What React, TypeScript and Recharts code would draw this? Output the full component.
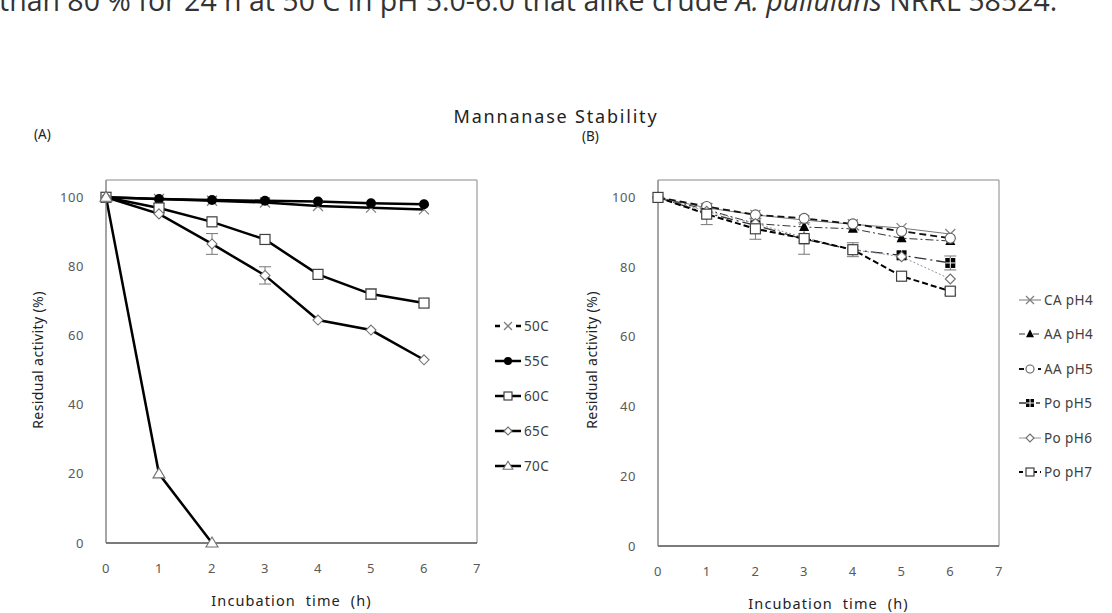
import React from "react";
import { ErrorBar, Line, LineChart, ReferenceArea, XAxis, YAxis } from "recharts";

// incubation time (h)
const hours = [0, 1, 2, 3, 4, 5, 6];
const xTicks = [0, 1, 2, 3, 4, 5, 6, 7];
const yTicks = [0, 20, 40, 60, 80, 100];

// (A) temperature stability, residual activity (%)
const temp50 = [100, 99.5, 99, 98.5, 97.5, 97, 96.5];
const temp55 = [100, 99.5, 99.2, 99, 98.8, 98.3, 98];
const temp60 = [100, 96.9, 92.9, 87.8, 77.7, 72, 69.4];
const temp65 = [100, 95.2, 86.5, 77.4, 64.5, 61.6, 53];
const temp70 = [100, 20, 0];
const err60 = [0, 0, 0, 0, 0, 1.5, 0];
const err65 = [0, 0, 3, 2.5, 0, 0, 0];

// (B) pH stability, residual activity (%)
const caPH4 = [100, 97, 95, 93.5, 92.3, 91.2, 89.5];
const aaPH4 = [100, 96.5, 92.5, 91.5, 91, 88.3, 87.5];
const aaPH5 = [100, 97.4, 95, 94, 92.4, 90.3, 88.3];
const poPH5 = [100, 95.5, 92, 88, 85, 83.4, 81.2];
const poPH6 = [100, 96, 92.5, 88.5, 85, 83, 76.6];
const poPH7 = [100, 95.2, 91, 88.2, 85, 77.4, 73.1];
const errPoPH5 = [0, 0, 0, 0, 2, 0, 2];
const errPoPH7 = [0, 3, 3, 4.5, 0, 0, 1];

const tempRows = hours.map((t, i) => ({
  t,
  c50: temp50[i],
  c55: temp55[i],
  c60: temp60[i],
  c65: temp65[i],
  c70: temp70[i],
  e60: err60[i],
  e65: err65[i],
}));

const phRows = hours.map((t, i) => ({
  t,
  caPH4: caPH4[i],
  aaPH4: aaPH4[i],
  aaPH5: aaPH5[i],
  poPH5: poPH5[i],
  poPH6: poPH6[i],
  poPH7: poPH7[i],
  ePo5: errPoPH5[i],
  ePo7: errPoPH7[i],
}));

type Kind = "cross" | "dot" | "square" | "diamond" | "triangle" | "filledTriangle" | "circle" | "blockSquare";

function Marker({ kind, cx, cy, s = 1 }: { kind: Kind; cx: number; cy: number; s?: number }) {
  switch (kind) {
    case "cross":
      return (
        <g stroke="#808080" strokeWidth={1.3}>
          <line x1={cx - 5 * s} y1={cy - 5 * s} x2={cx + 5 * s} y2={cy + 5 * s} />
          <line x1={cx - 5 * s} y1={cy + 5 * s} x2={cx + 5 * s} y2={cy - 5 * s} />
        </g>
      );
    case "dot":
      return <circle cx={cx} cy={cy} r={5 * s} fill="#000" />;
    case "square":
      return <rect x={cx - 5 * s} y={cy - 5 * s} width={10 * s} height={10 * s} fill="#fff" stroke="#404040" strokeWidth={1.2} />;
    case "diamond":
      return (
        <polygon
          points={`${cx},${cy - 5 * s} ${cx + 5 * s},${cy} ${cx},${cy + 5 * s} ${cx - 5 * s},${cy}`}
          fill="#fff"
          stroke="#707070"
          strokeWidth={1.1}
        />
      );
    case "triangle":
      return (
        <polygon
          points={`${cx},${cy - 6 * s} ${cx + 6 * s},${cy + 4 * s} ${cx - 6 * s},${cy + 4 * s}`}
          fill="#fff"
          stroke="#707070"
          strokeWidth={1.1}
        />
      );
    case "filledTriangle":
      return <polygon points={`${cx},${cy - 6 * s} ${cx + 5 * s},${cy + 4 * s} ${cx - 5 * s},${cy + 4 * s}`} fill="#000" />;
    case "circle":
      return <circle cx={cx} cy={cy} r={5 * s} fill="#fff" stroke="#606060" strokeWidth={1.1} />;
    case "blockSquare":
      return (
        <g>
          <rect x={cx - 5 * s} y={cy - 5 * s} width={10 * s} height={10 * s} fill="#000" />
          <line x1={cx} y1={cy - 5 * s} x2={cx} y2={cy + 5 * s} stroke="#fff" strokeWidth={1} />
          <line x1={cx - 5 * s} y1={cy} x2={cx + 5 * s} y2={cy} stroke="#fff" strokeWidth={1} />
        </g>
      );
  }
}

function dotFor(kind: Kind) {
  return (p: any) => {
    if (p.cx == null || p.cy == null || p.value == null) return <g key={p.index} />;
    return (
      <g key={p.index}>
        <Marker kind={kind} cx={p.cx} cy={p.cy} />
      </g>
    );
  };
}

const font = "Noto Sans";
const tickStyle = { fontSize: 13, fill: "#595959", fontFamily: font, letterSpacing: 0.6 };

function LegendItem({
  kind,
  dash,
  color,
  width,
  label,
  w = 30,
}: {
  kind: Kind;
  dash?: string;
  color: string;
  width: number;
  label: string;
  w?: number;
}) {
  return (
    <div style={{ display: "flex", alignItems: "center", height: 16 }}>
      <svg width={w} height={16}>
        <line x1={1} y1={8} x2={w - 1} y2={8} stroke={color} strokeWidth={width} strokeDasharray={dash} />
        <Marker kind={kind} cx={w / 2} cy={8} s={0.8} />
      </svg>
      <span style={{ fontFamily: font, fontSize: 13.5, color: "#404040", marginLeft: 2, letterSpacing: 0.4 }}>{label}</span>
    </div>
  );
}

function abs(left: number, top: number, extra: React.CSSProperties = {}): React.CSSProperties {
  return { position: "absolute", left, top, ...extra };
}

const xTitle: React.CSSProperties = {
  textAlign: "center",
  fontFamily: font,
  fontSize: 14.5,
  color: "#222",
  letterSpacing: 1.1,
  wordSpacing: 5,
  lineHeight: "16px",
};

const yTitle: React.CSSProperties = {
  fontFamily: font,
  fontSize: 14,
  color: "#222",
  letterSpacing: 0.4,
  transform: "translate(-50%, -50%) rotate(-90deg)",
  whiteSpace: "nowrap",
  lineHeight: "16px",
};

export default function App() {
  return (
    <div style={{ position: "absolute", left: 0, top: 0, width: 1112, height: 613, overflow: "hidden", background: "#fff" }}>
      <div style={abs(-1, -15, { fontFamily: "Open Sans", fontSize: 28.5, lineHeight: "30px", color: "#333", whiteSpace: "nowrap" })}>
        than 80 % for 24 h at 50 C in pH 5.0-6.0 that alike crude <i>A. pullulans</i> NRRL 58524.
      </div>

      <div
        style={abs(0, 107, {
          width: 1112,
          textAlign: "center",
          fontFamily: font,
          fontSize: 18,
          lineHeight: "18px",
          letterSpacing: 1.8,
          color: "#222",
        })}
      >
        Mannanase Stability
      </div>
      <div style={abs(34, 127, { fontFamily: font, fontSize: 13.5, lineHeight: "15px", color: "#222" })}>(A)</div>
      <div style={abs(582, 129, { fontFamily: font, fontSize: 13.5, lineHeight: "15px", color: "#222" })}>(B)</div>

      {/* (A) temperature */}
      <div style={abs(46, 170)}>
        <LineChart width={441} height={413} data={tempRows} margin={{ top: 10, right: 10, bottom: 0, left: 0 }}>
          <XAxis
            dataKey="t"
            type="number"
            domain={[0, 7]}
            ticks={xTicks}
            tickLine={false}
            tickSize={0}
            tickMargin={21}
            height={40}
            stroke="#333"
            tick={tickStyle}
          />
          <YAxis
            type="number"
            domain={[0, 105]}
            ticks={yTicks}
            tickLine={false}
            tickSize={0}
            tickMargin={22}
            width={60}
            stroke="#888"
            tick={tickStyle}
          />
          <ReferenceArea x1={0} x2={7} y1={0} y2={105} fill="none" stroke="#888" strokeWidth={1} ifOverflow="visible" />
          <Line dataKey="c50" stroke="#000" strokeWidth={2.5} dot={dotFor("cross")} isAnimationActive={false} />
          <Line dataKey="c55" stroke="#000" strokeWidth={2.5} dot={dotFor("dot")} isAnimationActive={false} />
          <Line dataKey="c60" stroke="#000" strokeWidth={2.5} dot={dotFor("square")} isAnimationActive={false}>
            <ErrorBar dataKey="e60" width={6} stroke="#777" strokeWidth={1} direction="y" />
          </Line>
          <Line dataKey="c65" stroke="#000" strokeWidth={2.5} dot={dotFor("diamond")} isAnimationActive={false}>
            <ErrorBar dataKey="e65" width={6} stroke="#777" strokeWidth={1} direction="y" />
          </Line>
          <Line dataKey="c70" stroke="#000" strokeWidth={2.5} dot={dotFor("triangle")} isAnimationActive={false} />
        </LineChart>
      </div>
      <div style={abs(494, 318, { display: "flex", flexDirection: "column", gap: 19 })}>
        <LegendItem kind="cross" color="#000" width={2.5} dash="5 16 5" w={28} label="50C" />
        <LegendItem kind="dot" color="#000" width={2.5} w={28} label="55C" />
        <LegendItem kind="square" color="#000" width={2.5} w={28} label="60C" />
        <LegendItem kind="diamond" color="#000" width={2.5} w={28} label="65C" />
        <LegendItem kind="triangle" color="#000" width={2.5} w={28} label="70C" />
      </div>
      <div style={abs(38, 360, yTitle)}>Residual activity (%)</div>
      <div style={abs(106, 592, { ...xTitle, width: 371 })}>Incubation time (h)</div>

      {/* (B) pH */}
      <div style={abs(598, 170)}>
        <LineChart width={411} height={416} data={phRows} margin={{ top: 10, right: 10, bottom: 0, left: 0 }}>
          <XAxis
            dataKey="t"
            type="number"
            domain={[0, 7]}
            ticks={xTicks}
            tickLine={false}
            tickSize={0}
            tickMargin={21}
            height={40}
            stroke="#333"
            tick={tickStyle}
          />
          <YAxis
            type="number"
            domain={[0, 105]}
            ticks={yTicks}
            tickLine={false}
            tickSize={0}
            tickMargin={22}
            width={60}
            stroke="#888"
            tick={tickStyle}
          />
          <ReferenceArea x1={0} x2={7} y1={0} y2={105} fill="none" stroke="#888" strokeWidth={1} ifOverflow="visible" />
          <Line dataKey="caPH4" stroke="#777" strokeWidth={1} dot={dotFor("cross")} isAnimationActive={false} />
          <Line dataKey="aaPH4" stroke="#333" strokeWidth={1} strokeDasharray="8 3 2 3" dot={dotFor("filledTriangle")} isAnimationActive={false} />
          <Line dataKey="aaPH5" stroke="#111" strokeWidth={1.8} strokeDasharray="7 4" dot={dotFor("circle")} isAnimationActive={false} />
          <Line dataKey="poPH5" stroke="#333" strokeWidth={1.3} strokeDasharray="12 4 2 4" dot={dotFor("blockSquare")} isAnimationActive={false}>
            <ErrorBar dataKey="ePo5" width={6} stroke="#777" strokeWidth={1} direction="y" />
          </Line>
          <Line dataKey="poPH6" stroke="#8a96a8" strokeWidth={1} strokeDasharray="2 2" dot={dotFor("diamond")} isAnimationActive={false} />
          <Line dataKey="poPH7" stroke="#000" strokeWidth={2} strokeDasharray="6 3" dot={dotFor("square")} isAnimationActive={false}>
            <ErrorBar dataKey="ePo7" width={6} stroke="#777" strokeWidth={1} direction="y" />
          </Line>
        </LineChart>
      </div>
      <div style={abs(1018, 292, { display: "flex", flexDirection: "column", gap: 18.4 })}>
        <LegendItem kind="cross" color="#777" width={1} w={24} label="CA pH4" />
        <LegendItem kind="filledTriangle" color="#333" width={1} dash="6 3 2 3" w={24} label="AA pH4" />
        <LegendItem kind="circle" color="#111" width={1.8} dash="5 14 5" w={24} label="AA pH5" />
        <LegendItem kind="blockSquare" color="#333" width={1.3} dash="7 10 4" w={24} label="Po pH5" />
        <LegendItem kind="diamond" color="#8a96a8" width={1} w={24} label="Po pH6" />
        <LegendItem kind="square" color="#000" width={1.8} dash="4 3" w={24} label="Po pH7" />
      </div>
      <div style={abs(592, 360, yTitle)}>Residual activity (%)</div>
      <div style={abs(658, 595, { ...xTitle, width: 341 })}>Incubation time (h)</div>
    </div>
  );
}
